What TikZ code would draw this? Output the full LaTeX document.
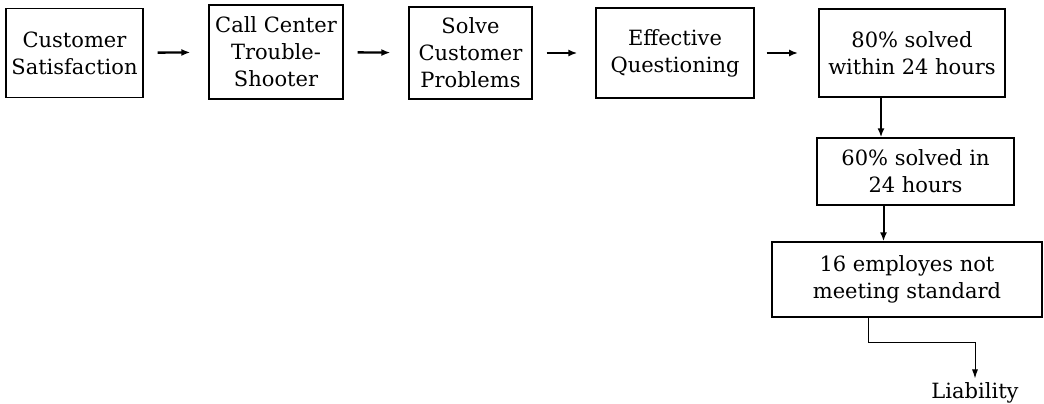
\documentclass[tikz,border=0pt]{standalone}
\usepackage{fontspec}
\setmainfont{DejaVu Serif}
\usepackage{tikz}
\usetikzlibrary{positioning}
\usetikzlibrary{arrows.meta}

\tikzset{
    stepbox/.style={draw, line width=1.3pt, align=center, inner sep=0pt,
        font=\fontsize{21}{27}\selectfont},
    flow/.style={-{Latex[length=9pt,width=7pt]}, line width=2.4pt,
        shorten <=14pt, shorten >=18pt},
    down/.style={-{Latex[length=9pt,width=7pt]}, line width=2pt},
    thin flow/.style={-{Latex[length=9pt,width=6pt]}, line width=1pt}
}

\begin{document}
\begin{tikzpicture}[x=1pt, y=-1pt]
    \useasboundingbox (0,0) rectangle (1044,404);

    % Main chain
    \node[stepbox, minimum width=137pt, minimum height=89pt] (satisf) at (74.5,53) {Customer\\Satisfaction};
    \node[stepbox, minimum width=134pt, minimum height=94pt] (callc) at (276,52) {Call Center\\Trouble-\\Shooter};
    \node[stepbox, minimum width=123pt, minimum height=92pt] (solve) at (470.5,53) {Solve\\Customer\\Problems};
    \node[stepbox, minimum width=158pt, minimum height=90pt] (quest) at (675,53) {Effective\\Questioning};
    \node[stepbox, line width=1.8pt, minimum width=186pt, minimum height=88pt] (goal) at (912,53) {80\% solved\\within 24 hours};

    % Drill down
    \node[stepbox, minimum width=197pt, minimum height=67pt] (actual) at (915.5,171.5) {60\% solved in\\24 hours};
    \node[stepbox, minimum width=270pt, minimum height=75pt] (staff) at (907,279.5) {16 employes not\\meeting standard};
    \node[font=\fontsize{21}{27}\selectfont, inner sep=0pt] (liab) at (975,393) {Liability};

    \draw[flow] (satisf) -- (callc);
    \draw[flow] (callc) -- (solve);
    \draw[flow] (solve) -- (quest);
    \draw[flow, shorten <=12pt, shorten >=20pt] (quest) -- (goal);

    \draw[down] ([xshift=-31pt]goal.south) -- ([xshift=-31pt]goal.south |- actual.north);
    \draw[down] ([xshift=-32pt]actual.south) -- ([xshift=-32pt]actual.south |- staff.north);
    \draw[thin flow] ([xshift=-39pt]staff.south) -- ++(0,25) -| ([yshift=4pt]liab.north);
\end{tikzpicture}
\end{document}
